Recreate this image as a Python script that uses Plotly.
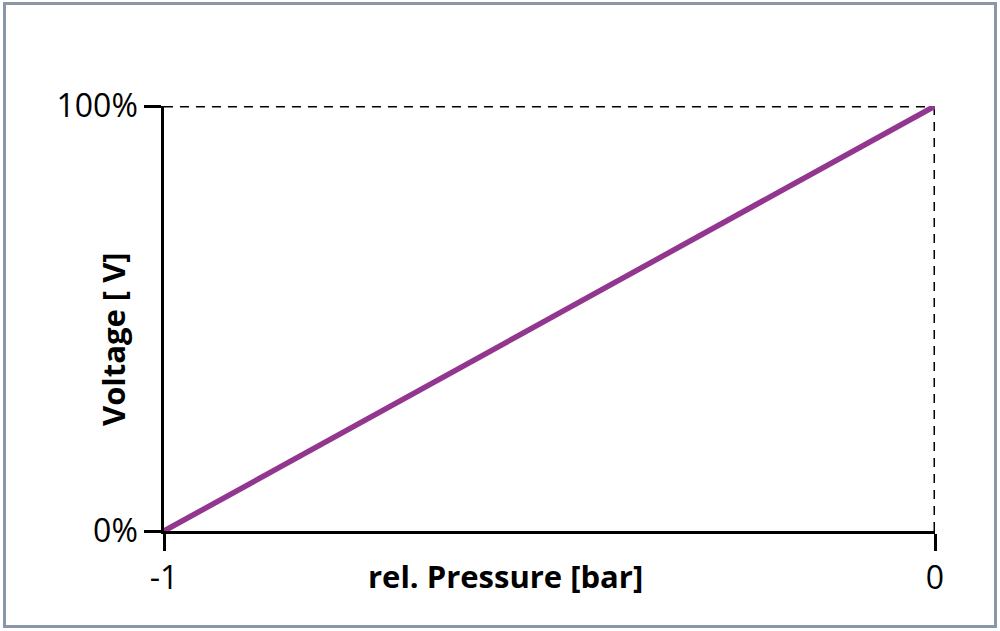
import plotly.graph_objects as go

# Data
pressure = [-1, 0]          # rel. Pressure [bar]
voltage = [0, 100]          # Voltage [%]
x_ticks = [-1, 0]
x_tick_labels = ["-1", "0"]
y_ticks = [0, 100]
y_tick_labels = ["0%", "100%"]

W, H = 1000, 631
ML, MR, MT, MB = 164, 65, 106, 100
PW = W - ML - MR
PH = H - MT - MB

def px_x(p):
    return (p - ML) / PW

def px_y(p):
    return (H - MB - p) / PH

fig = go.Figure()
fig.add_trace(go.Scatter(
    x=pressure, y=voltage, mode="lines",
    line=dict(color="#93368f", width=5.5),
    cliponaxis=False, showlegend=False, hoverinfo="skip",
))

# dashed frame (top and right)
dash_line = dict(color="black", width=3, dash="9px,7px")
fig.add_shape(type="line", x0=pressure[0], x1=pressure[1], y0=voltage[1], y1=voltage[1],
              xref="x", yref="y", line=dash_line, layer="below")
fig.add_shape(type="line", x0=pressure[1], x1=pressure[1], y0=voltage[0], y1=voltage[1],
              xref="x", yref="y", line=dash_line, layer="below")

# outer gray border
fig.add_shape(type="rect", xref="paper", yref="paper",
              x0=px_x(4.5), x1=px_x(995.5), y0=px_y(626.5), y1=px_y(3.5),
              line=dict(color="#8a97a6", width=3), fillcolor="rgba(0,0,0,0)", layer="below")

fnt = "Open Sans, Lato, sans-serif"
fig.add_annotation(text="<b>rel. Pressure [bar]</b>", xref="paper", yref="paper",
                   x=px_x(505), y=px_y(576), xanchor="center", yanchor="middle", showarrow=False,
                   font=dict(family=fnt, size=31, color="black"))
fig.add_annotation(text="<b>Voltage [ V]</b>", xref="paper", yref="paper",
                   x=px_x(113), y=px_y(339), xanchor="center", yanchor="middle", showarrow=False,
                   textangle=-90, font=dict(family=fnt, size=31, color="black"))

fig.update_xaxes(range=[-1, 0], tickvals=x_ticks, ticktext=x_tick_labels,
                 showgrid=False, zeroline=False, showline=True, linecolor="black", linewidth=2.5,
                 ticks="outside", ticklen=17, tickwidth=2.5, tickcolor="black",
                 tickfont=dict(family=fnt, size=32, color="black"), fixedrange=True)
fig.update_yaxes(range=[0, 100], tickvals=y_ticks, ticktext=y_tick_labels,
                 showgrid=False, zeroline=False, showline=True, linecolor="black", linewidth=2.5,
                 ticks="outside", ticklen=17, tickwidth=2.5, tickcolor="black",
                 tickfont=dict(family=fnt, size=32, color="black"), fixedrange=True)

fig.update_layout(width=W, height=H, margin=dict(l=ML, r=MR, t=MT, b=MB, autoexpand=False),
                  paper_bgcolor="white", plot_bgcolor="white", showlegend=False)

fig.write_html("out.html", config={"displayModeBar": False},
               post_script="document.body.style.margin='0px';document.body.style.overflow='hidden';")
